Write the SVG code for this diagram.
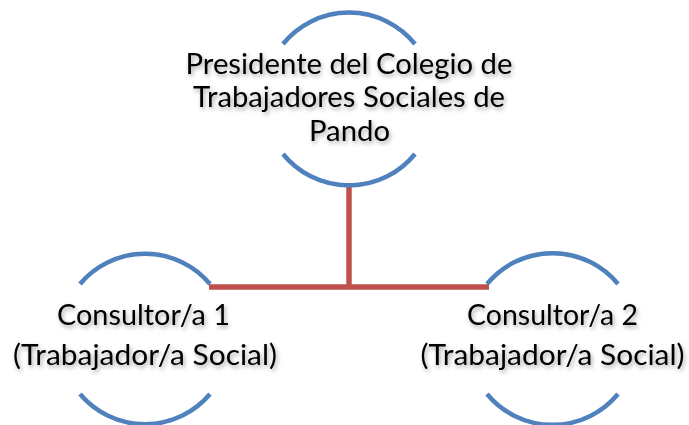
<svg xmlns="http://www.w3.org/2000/svg" width="689" height="425" viewBox="0 0 689 425">
<defs>
<style>
.arc{fill:none;stroke:#4F81BD;stroke-width:4.5}
.conn{fill:none;stroke:#C0504D;stroke-width:5.5}
.t{font-family:Lato,"Open Sans","Liberation Sans",sans-serif;font-size:29px;fill:#000;text-anchor:middle;filter:url(#sh)}
</style>
<filter id="sh" x="-10%" y="-30%" width="120%" height="170%">
<feDropShadow dx="1.5" dy="2.5" stdDeviation="2" flood-color="#000" flood-opacity="0.35"/>
</filter>
</defs>
<rect width="689" height="425" fill="#fff"/>
<g id="connectors">
<path class="conn" d="M349 183 V287"/>
<path class="conn" d="M209 287 H489"/>
</g>
<g id="node-presidente">
<path class="arc" d="M283 44 A85 85 0 0 1 415 44"/>
<path class="arc" d="M283 154 A85 85 0 0 0 415 154"/>
<text class="t" x="349" y="74" textLength="327" lengthAdjust="spacingAndGlyphs">Presidente del Colegio de</text>
<text class="t" x="349" y="107" textLength="312" lengthAdjust="spacingAndGlyphs">Trabajadores Sociales de</text>
<text class="t" x="349.5" y="141" textLength="81" lengthAdjust="spacingAndGlyphs">Pando</text>
</g>
<g id="node-consultor1">
<path class="arc" d="M80 284 A85 85 0 0 1 210 284"/>
<path class="arc" d="M80 394 A85 85 0 0 0 210 394"/>
<text class="t" x="143.5" y="325" textLength="173" lengthAdjust="spacingAndGlyphs">Consultor/a 1</text>
<text class="t" x="145" y="365" textLength="264" lengthAdjust="spacingAndGlyphs">(Trabajador/a Social)</text>
</g>
<g id="node-consultor2">
<path class="arc" d="M487 284 A85 85 0 0 1 618 284"/>
<path class="arc" d="M487 394 A85 85 0 0 0 618 394"/>
<text class="t" x="552.5" y="325" textLength="171" lengthAdjust="spacingAndGlyphs">Consultor/a 2</text>
<text class="t" x="552.5" y="365" textLength="264" lengthAdjust="spacingAndGlyphs">(Trabajador/a Social)</text>
</g>
</svg>
